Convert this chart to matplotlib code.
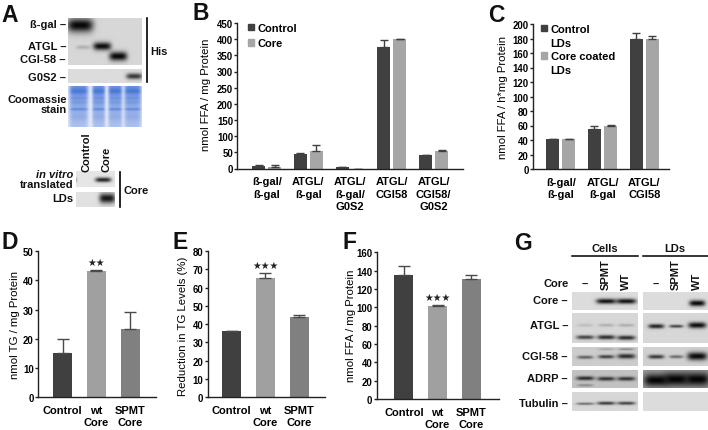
import numpy as np
import matplotlib
matplotlib.use('Agg')
import matplotlib.pyplot as plt
from matplotlib.patches import Patch

plt.rcParams['font.family'] = ['Liberation Sans', 'DejaVu Sans']
plt.rcParams['font.weight'] = 'bold'

W, H = 708, 431
DARK, LIGHT, MID = '#404040', '#a6a6a6', '#808080'
TXT = 8.0

# panel B
b_labels = ['ß-gal/\nß-gal', 'ATGL/\nß-gal', 'ATGL/\nß-gal/\nG0S2', 'ATGL/\nCGI58', 'ATGL/\nCGI58/\nG0S2']
b_control = [8, 45, 5, 375, 42]
b_control_err = [2.5, 4, 1, 23, 0]
b_core = [5, 55, 0, 400, 54]
b_core_err = [6, 17, 0, 2, 2]
b_ticks = [0, 50, 100, 150, 200, 250, 300, 350, 400, 450]

# panel C
c_labels = ['ß-gal/\nß-gal', 'ATGL/\nß-gal', 'ATGL/\nCGI58']
c_control = [41, 55, 179]
c_control_err = [0.5, 5, 8]
c_core = [41, 60, 180]
c_core_err = [0.5, 0.5, 4]
c_ticks = [0, 20, 40, 60, 80, 100, 120, 140, 160, 180, 200]

# panels D, E, F
def_labels = ['Control', 'wt\nCore', 'SPMT\nCore']
d_values = [15, 43.2, 23.3]
d_err = [4.8, 0.4, 5.7]
d_ticks = [0, 10, 20, 30, 40, 50]
e_values = [36, 65, 43.7]
e_err = [0.5, 3, 1.5]
e_ticks = [0, 10, 20, 30, 40, 50, 60, 70, 80]
f_values = [135, 101, 131]
f_err = [10, 1.5, 4]
f_ticks = [0, 20, 40, 60, 80, 100, 120, 140, 160]


fig = plt.figure(figsize=(W / 100, H / 100), dpi=100, facecolor='white')

# overlay in pixel coordinates for the blots, labels and panel letters
px = fig.add_axes([0, 0, 1, 1])
px.set_axis_off()


def reset_px():
    px.set_xlim(0, W)
    px.set_ylim(H, 0)


'''
Draws one gel strip. Each band is (x, y, half width, half height, strength),
in pixels of the figure
'''
def blot(x0, y0, x1, y1, bands, bg=0.86):
    xs, ys = np.meshgrid(np.arange(x0, x1, 0.5), np.arange(y0, y1, 0.5))
    img = np.full(xs.shape, float(bg))
    for (cx, cy, hw, hh, strength) in bands:
        shape = np.exp(-((xs - cx) / hw) ** 4 - ((ys - cy) / hh) ** 2)
        img = img * (1 - strength * shape)
    px.imshow(img, extent=(x0, x1, y1, y0), cmap='gray', vmin=0, vmax=1,
              aspect='auto', interpolation='bilinear')


# blue gel with four lanes
def coomassie(x0, y0, x1, y1, lanes, stripes):
    xs, ys = np.meshgrid(np.arange(x0, x1, 0.5), np.arange(y0, y1, 0.5))
    mask = np.zeros(xs.shape)
    for (l, r) in lanes:
        mask = mask + np.exp(-(np.abs(xs - (l + r) / 2) / ((r - l) / 2)) ** 6)
    depth = 0.62 - 0.34 * (ys - y0) / (y1 - y0)
    for (cy, hh, amount) in stripes:
        depth = depth + amount * np.exp(-((ys - cy) / hh) ** 2)
    depth = np.clip(depth * np.clip(mask, 0, 1) + 0.08, 0, 1)
    white = np.array([0.95, 0.96, 0.99])
    blue = np.array([0.20, 0.40, 0.82])
    img = white[None, None, :] * (1 - depth[..., None]) + blue[None, None, :] * depth[..., None]
    px.imshow(img, extent=(x0, x1, y1, y0), aspect='auto', interpolation='bilinear')


def label(x, y, s, ha='right', size=TXT, **kw):
    px.text(x, y, s, ha=ha, va='center', fontsize=size, color='#111111', **kw)


def make_axes(left, top, right, bottom):
    ax = fig.add_axes([left / W, 1 - bottom / H, (right - left) / W, (bottom - top) / H])
    ax.patch.set_alpha(0)
    for side in ['top', 'right']:
        ax.spines[side].set_visible(False)
    for side in ['left', 'bottom']:
        ax.spines[side].set_linewidth(1.0)
        ax.spines[side].set_color('#222222')
    ax.tick_params(axis='y', length=2.4, width=1.0, pad=0.8, labelsize=6.9, color='#222222')
    ax.tick_params(axis='x', length=0, pad=5.5, labelsize=TXT)
    return ax


def finish(ax, ticks, ymax, xlim, ylabel, label_x, label_y):
    ax.set_xlim(*xlim)
    ax.set_ylim(0, ymax)
    ax.set_yticks(ticks)
    ax.set_ylabel(ylabel, fontsize=8.2, va='center')
    ax.yaxis.set_label_coords(label_x, label_y, transform=px.transData)


def grouped(ax, labels, control, control_err, core, core_err):
    x = np.arange(len(labels))
    bar_w, off = 0.31, 0.192
    err_kw = {'lw': 1.0, 'capthick': 1.0, 'capsize': 3.0, 'ecolor': DARK}
    ax.bar(x - off, control, bar_w, color=DARK,
           yerr=[np.zeros(len(x)), control_err], error_kw=err_kw)
    ax.bar(x + off, core, bar_w, color=LIGHT,
           yerr=[np.zeros(len(x)), core_err], error_kw=err_kw)
    ax.set_xticks(x)
    ax.set_xticklabels(labels, linespacing=1.3)


# each legend line is its own entry, the swatch only sits next to the first line
def legend(ax, entries, anchor, spacing):
    handles = [Patch(color=c) if c else Patch(alpha=0) for c, _ in entries]
    ax.legend(handles, [s for _, s in entries], loc='upper left', bbox_to_anchor=anchor,
              frameon=False, fontsize=TXT, handlelength=0.55, handleheight=0.55,
              handletextpad=0.35, labelspacing=spacing, borderpad=0, borderaxespad=0)


def single(ax, values, err, stars):
    x = np.arange(len(values))
    ax.bar(x, values, 0.565, color=[DARK, '#a0a0a0', MID], yerr=[np.zeros(len(x)), err],
           error_kw={'lw': 1.0, 'capthick': 1.0, 'capsize': 4.0, 'ecolor': '#4a4a4a'})
    ax.set_xticks(x)
    ax.set_xticklabels(def_labels, linespacing=1.3)
    ax.annotate(stars, (1, values[1] + err[1]), xytext=(0, 2), textcoords='offset points',
                ha='center', va='bottom', fontsize=7, color='#222222',
                family=['DejaVu Sans'], fontweight='normal')


# --- bar panels ---
ax_b = make_axes(237.5, 24, 463.3, 169.5)
grouped(ax_b, b_labels, b_control, b_control_err, b_core, b_core_err)
legend(ax_b, [(DARK, 'Control'), (LIGHT, 'Core')], (0.046, 1.0), 0.48)
finish(ax_b, b_ticks, 450, (-0.70, 4.71), 'nmol FFA / mg Protein', 206, 95)

ax_c = make_axes(533.3, 25, 669.3, 170)
grouped(ax_c, c_labels, c_control, c_control_err, c_core, c_core_err)
legend(ax_c, [(DARK, 'Control'), (None, 'LDs'), (LIGHT, 'Core coated'), (None, 'LDs')], (0.054, 1.0), 0.32)
finish(ax_c, c_ticks, 200, (-0.657, 2.6), 'nmol FFA / h*mg Protein', 503, 97.5)

ax_d = make_axes(38.3, 252, 156, 398.3)
single(ax_d, d_values, d_err, '★★')
finish(ax_d, d_ticks, 50, (-0.727, 2.77), 'nmol TG / mg Protein', 15, 325)

ax_e = make_axes(207.7, 252, 325, 398.3)
single(ax_e, e_values, e_err, '★★★')
finish(ax_e, e_ticks, 80, (-0.715, 2.77), 'Reduction in TG Levels (%)', 183, 326.6)

ax_f = make_axes(376.7, 253.3, 499.3, 400)
single(ax_f, f_values, f_err, '★★★')
finish(ax_f, f_ticks, 160, (-0.804, 2.83), 'nmol FFA / mg Protein', 350.5, 326)

# --- panel A blots ---
blot(68, 19, 142, 66, [(80, 26, 13, 7, 0.97), (83, 48, 7, 2, 0.18), (102, 47, 9, 4, 0.95), (118, 57, 9, 4.5, 0.97)], 0.84)
blot(68, 70, 142, 84, [(134, 77, 8, 3, 0.75)], 0.86)
coomassie(68, 87, 142, 128, [(69, 88), (92, 105), (108, 122), (124, 141)],
          [(92, 3, 0.22), (99, 1.5, 0.1), (110, 1.2, 0.25), (103, 1.5, 0.08), (118, 3, 0.06)])
blot(76, 173, 115, 188, [(103, 181, 8, 2.2, 0.85), (76, 181, 1, 2, 0.3)], 0.9)
blot(76, 193, 115, 208, [(107, 199, 8, 5, 0.9)], 0.88)

px.plot([147, 147], [19, 83], color='black', lw=1.2)
px.plot([119.5, 119.5], [173, 208], color='black', lw=1.2)

label(66, 25, 'ß-gal –')
label(66, 46.7, 'ATGL –')
label(66, 60, 'CGI-58 –')
label(66, 77.7, 'G0S2 –')
label(67, 100, 'Coomassie')
label(67, 110, 'stain')
label(73.5, 175, 'in vitro', style='italic')
label(73.5, 185, 'translated')
label(73.5, 199, 'LDs')
label(150, 52, 'His', ha='left')
label(123, 191, 'Core', ha='left')
px.text(87, 172, 'Control', rotation=90, ha='center', va='bottom', fontsize=TXT, color='#111111')
px.text(106, 172, 'Core', rotation=90, ha='center', va='bottom', fontsize=TXT, color='#111111')

# --- panel G blots ---
L1, L2, L3 = 585, 606, 626
R1, R2, R3 = 656, 676, 697
blot(572, 293, 638, 311, [(L2, 302, 10, 2.6, 0.92), (L3, 302, 10, 2.6, 0.92)], 0.86)
blot(643, 293, 708, 311, [(R3, 304, 8, 3, 0.97)], 0.86)
blot(572, 314, 638, 344, [(L1, 326, 8, 1.5, 0.12), (L2, 326, 8, 1.5, 0.18), (L3, 326, 8, 1.5, 0.2),
                          (L1, 338, 9, 2, 0.7), (L2, 338, 9, 2.2, 0.8), (L3, 338.5, 9, 2.2, 0.8)], 0.84)
blot(643, 314, 708, 344, [(R1, 327, 8, 2.2, 0.85), (R2, 327, 7, 1.5, 0.7), (R3, 326, 9, 3, 0.95)], 0.84)
blot(572, 348, 638, 367, [(L1, 358, 8, 1.6, 0.55), (L2, 357.5, 8, 1.8, 0.7), (L3, 357, 9, 2.4, 0.8),
                          (L2, 350, 8, 1, 0.2), (L3, 350, 8, 1, 0.35)], 0.8)
blot(643, 348, 708, 367, [(R1, 357.5, 8, 2, 0.75), (R2, 357.5, 7, 1.6, 0.5), (R3, 357, 10, 4, 0.96)], 0.82)
blot(572, 371, 638, 389, [(L1, 379, 9, 2, 0.8), (L2, 379.5, 9, 2, 0.75), (L3, 379.5, 9, 2, 0.75),
                          (L1, 386, 8, 1.2, 0.3)], 0.76)
blot(643, 371, 708, 389, [(R1, 381, 12, 6, 0.97), (R2, 380, 12, 6.5, 0.97), (R3, 380, 12, 6.5, 0.97)], 0.6)
blot(572, 393, 638, 412, [(L1, 404.5, 9, 1.2, 0.5), (L2, 404, 9, 1.6, 0.75), (L3, 404, 9, 1.6, 0.7)], 0.84)
blot(643, 393, 708, 412, [], 0.86)

px.plot([572, 638], [257, 257], color='black', lw=1.1)
px.plot([643, 708], [257, 257], color='black', lw=1.1)
label(604.7, 249, 'Cells', ha='center')
label(674.7, 249, 'LDs', ha='center')
label(569, 284, 'Core')
label(585, 285, '–', ha='center')
label(656, 285, '–', ha='center')
for x, s in [(606, 'SPMT'), (626, 'WT'), (676, 'SPMT'), (697, 'WT')]:
    px.text(x, 290, s, rotation=90, ha='center', va='bottom', fontsize=TXT, color='#111111')

label(568, 301, 'Core –')
label(568, 325.7, 'ATGL –')
label(568, 357, 'CGI-58 –')
label(568, 379, 'ADRP –')
label(568, 403.7, 'Tubulin –')

# panel letters
for x, y, s in [(1.5, 15, 'A'), (192, 14, 'B'), (488, 15, 'C'), (1.5, 243, 'D'), (172.5, 243, 'E'),
                (342.5, 243, 'F'), (514.5, 244, 'G')]:
    px.text(x, y, s, ha='left', va='center', fontsize=16.5, color='#111111')

reset_px()
fig.savefig('out.png', dpi=100)
